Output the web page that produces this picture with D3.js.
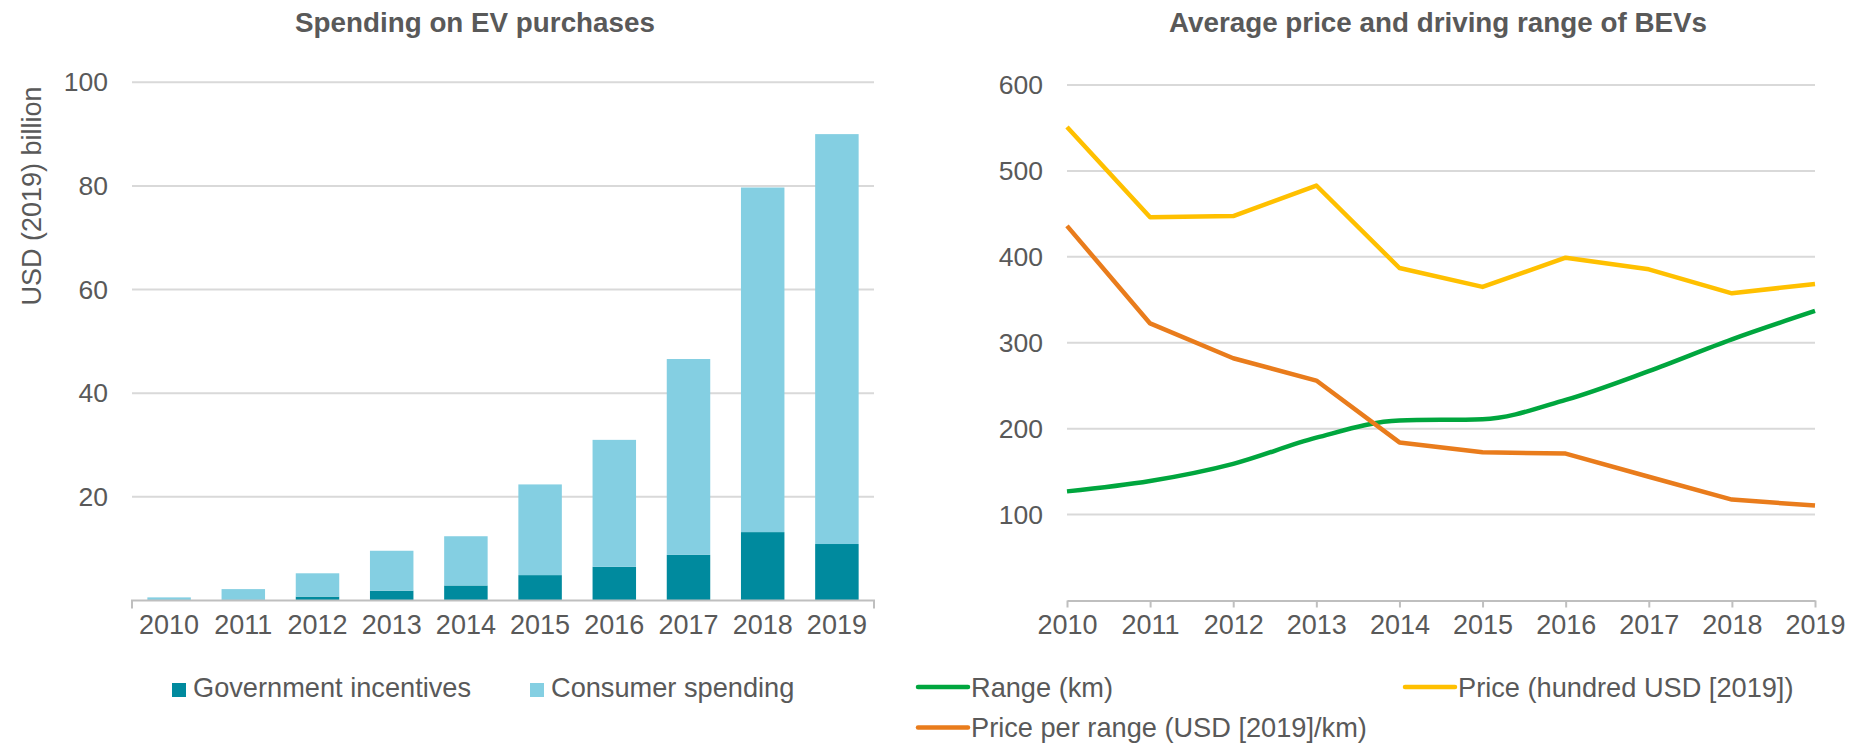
<!DOCTYPE html>
<html>
<head>
<meta charset="utf-8">
<script src="https://cdn.jsdelivr.net/npm/d3@7/dist/d3.min.js"></script>
<style>
  body { margin: 0; background: #fff; }
  svg { display: block; font-family: "Liberation Sans", Arial, sans-serif; }
</style>
</head>
<body>
<svg id="chart" width="1856" height="744"></svg>
<script>
// ── Data ────────────────────────────────────────────────────────────────────
const years = [2010, 2011, 2012, 2013, 2014, 2015, 2016, 2017, 2018, 2019];

// USD (2019) billion
const govIncentives    = [0.05, 0.1, 0.75, 1.9, 2.9, 4.9, 6.5, 8.8, 13.2, 10.9];
const consumerSpending = [0.55, 2.1, 4.5, 7.7, 9.5, 17.5, 24.5, 37.8, 66.5, 79.1];

const rangeKm        = [127, 139, 159, 189.5, 209.5, 211, 233.5, 267, 304, 337];
const priceHundred   = [551, 446, 447.5, 483, 387, 365, 399, 385.5, 357.5, 368.5];
const pricePerRange  = [436, 322.5, 282, 256, 184, 172.5, 171, 144, 117.5, 110.5];

const leftTicks  = [20, 40, 60, 80, 100];
const rightTicks = [100, 200, 300, 400, 500, 600];

// ── Style ───────────────────────────────────────────────────────────────────
const textColor = '#595959';
const gridColor = '#D9D9D9';
const axisColor = '#BFBFBF';
const fontSize = 26.5;
const legendSize = 27.2;
const titleSize = 27.8;
const colGov = '#008A9E';
const colCons = '#84CFE2';
const colRange = '#00A63E';
const colPrice = '#FFC000';
const colPpr = '#E97C1C';
const fontFam = '"Liberation Sans", Arial, sans-serif';

const svg = d3.select('#chart');

// ════════════════════════════════════════════════════════════════════════════
// Left: Spending on EV purchases
// ════════════════════════════════════════════════════════════════════════════
const L = { x0: 132, x1: 874, y0: 600.5, yTop: 82.3 };

const xL = d3.scaleBand()
  .domain(years)
  .range([L.x0, L.x1])
  .paddingInner(0.414)
  .paddingOuter(0.207);

const yL = d3.scaleLinear().domain([0, 100]).range([L.y0, L.yTop]);

svg.append('text')
  .attr('x', 475).attr('y', 32)
  .attr('text-anchor', 'middle')
  .attr('font-size', titleSize).attr('font-weight', 'bold')
  .attr('fill', textColor)
  .text('Spending on EV purchases');

svg.append('text')
  .attr('transform', 'translate(41,196) rotate(-90)')
  .attr('text-anchor', 'middle')
  .attr('font-size', 27).attr('fill', textColor)
  .text('USD (2019) billion');

// gridlines
svg.append('g').selectAll('line')
  .data(leftTicks)
  .join('line')
  .attr('x1', L.x0).attr('x2', L.x1)
  .attr('y1', d => yL(d)).attr('y2', d => yL(d))
  .attr('stroke', gridColor).attr('stroke-width', 2);

// y labels
const gyL = svg.append('g')
  .attr('transform', `translate(${L.x0},0)`)
  .call(d3.axisLeft(yL).tickValues(leftTicks).tickSize(0).tickPadding(24));
gyL.select('.domain').remove();
gyL.selectAll('text').attr('font-size', fontSize).attr('fill', textColor)
  .attr('font-family', fontFam);

// stacked bars
const stackRows = years.map((yr, i) => ({ year: yr, gov: govIncentives[i], cons: consumerSpending[i] }));
const stacked = d3.stack().keys(['gov', 'cons'])(stackRows);
const barColors = { gov: colGov, cons: colCons };

svg.append('g').selectAll('g')
  .data(stacked)
  .join('g')
  .attr('fill', d => barColors[d.key])
  .selectAll('rect')
  .data(d => d)
  .join('rect')
  .attr('x', d => xL(d.data.year))
  .attr('width', xL.bandwidth())
  .attr('y', d => yL(d[1]))
  .attr('height', d => yL(d[0]) - yL(d[1]));

// x axis
const gxL = svg.append('g')
  .attr('transform', `translate(0,${L.y0})`)
  .call(d3.axisBottom(xL).tickSize(0).tickPadding(14.5));
gxL.select('.domain').remove();
gxL.selectAll('text').attr('font-size', 27).attr('fill', textColor)
  .attr('font-family', fontFam);

svg.append('path')
  .attr('d', `M${L.x0},${L.y0 + 8}V${L.y0}H${L.x1}V${L.y0 + 8}`)
  .attr('fill', 'none').attr('stroke', axisColor).attr('stroke-width', 2);

// legend
const legL = [
  { label: 'Government incentives', color: colGov, x: 172 },
  { label: 'Consumer spending', color: colCons, x: 530 }
];
const gLegL = svg.append('g');
legL.forEach(d => {
  gLegL.append('rect')
    .attr('x', d.x).attr('y', 683)
    .attr('width', 14).attr('height', 14)
    .attr('fill', d.color);
  gLegL.append('text')
    .attr('x', d.x + 21).attr('y', 697)
    .attr('font-size', legendSize).attr('fill', textColor)
    .text(d.label);
});

// ════════════════════════════════════════════════════════════════════════════
// Right: Average price and driving range of BEVs
// ════════════════════════════════════════════════════════════════════════════
const R = { x0: 1067, x1: 1815, y0: 600.5, yTop: 85 };

const xR = d3.scalePoint().domain(years).range([R.x0, R.x1]);
const yR = d3.scaleLinear().domain([0, 600]).range([R.y0, R.yTop]);

svg.append('text')
  .attr('x', 1438).attr('y', 32)
  .attr('text-anchor', 'middle')
  .attr('font-size', titleSize).attr('font-weight', 'bold')
  .attr('fill', textColor)
  .text('Average price and driving range of BEVs');

svg.append('g').selectAll('line')
  .data(rightTicks)
  .join('line')
  .attr('x1', R.x0).attr('x2', R.x1)
  .attr('y1', d => yR(d)).attr('y2', d => yR(d))
  .attr('stroke', gridColor).attr('stroke-width', 2);

const gyR = svg.append('g')
  .attr('transform', `translate(${R.x0},0)`)
  .call(d3.axisLeft(yR).tickValues(rightTicks).tickSize(0).tickPadding(24));
gyR.select('.domain').remove();
gyR.selectAll('text').attr('font-size', fontSize).attr('fill', textColor)
  .attr('font-family', fontFam);

const gxR = svg.append('g')
  .attr('transform', `translate(0,${R.y0})`)
  .call(d3.axisBottom(xR).tickSize(7).tickSizeOuter(0).tickPadding(7.5));
gxR.select('.domain').attr('stroke', axisColor).attr('stroke-width', 2);
gxR.selectAll('.tick line').attr('stroke', axisColor).attr('stroke-width', 2);
gxR.selectAll('text').attr('font-size', 27).attr('fill', textColor)
  .attr('font-family', fontFam);

const series = [
  { key: 'range', values: rangeKm, color: colRange, curve: d3.curveMonotoneX },
  { key: 'price', values: priceHundred, color: colPrice, curve: d3.curveLinear },
  { key: 'ppr', values: pricePerRange, color: colPpr, curve: d3.curveLinear }
];

series.forEach(s => {
  const line = d3.line()
    .x((d, i) => xR(years[i]))
    .y(d => yR(d))
    .curve(s.curve);
  svg.append('path')
    .datum(s.values)
    .attr('d', line)
    .attr('fill', 'none')
    .attr('stroke', s.color)
    .attr('stroke-width', 4.5)
    .attr('stroke-linejoin', 'round');
});

// legend
const legR = [
  { label: 'Range (km)', color: colRange, x: 918, y: 687 },
  { label: 'Price (hundred USD [2019])', color: colPrice, x: 1405, y: 687 },
  { label: 'Price per range (USD [2019]/km)', color: colPpr, x: 918, y: 727.5 }
];
const gLegR = svg.append('g');
legR.forEach(d => {
  gLegR.append('line')
    .attr('x1', d.x).attr('x2', d.x + 50)
    .attr('y1', d.y).attr('y2', d.y)
    .attr('stroke', d.color).attr('stroke-width', 4.5)
    .attr('stroke-linecap', 'round');
  gLegR.append('text')
    .attr('x', d.x + 53).attr('y', d.y + 9.5)
    .attr('font-size', legendSize).attr('fill', textColor)
    .text(d.label);
});
</script>
</body>
</html>
